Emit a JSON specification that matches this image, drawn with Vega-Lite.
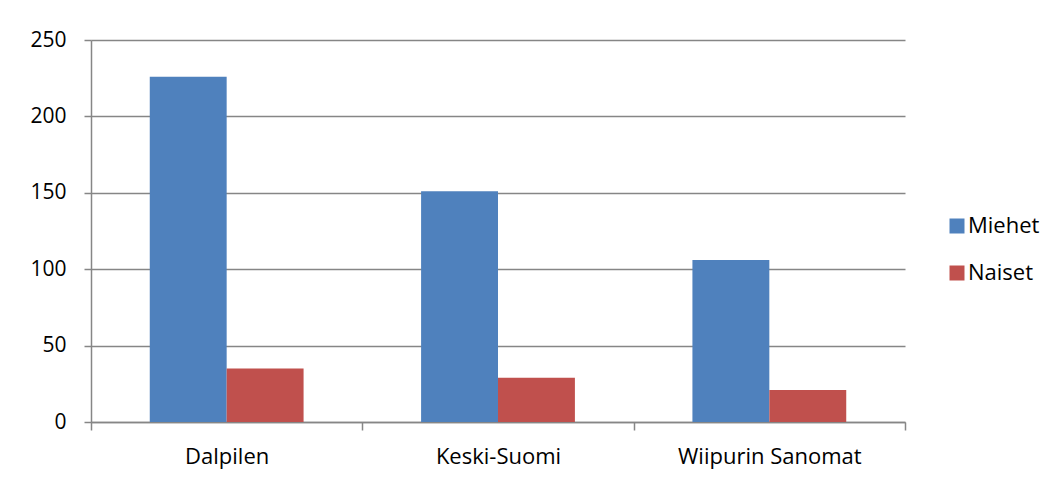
{
  "$schema": "https://vega.github.io/schema/vega-lite/v6.json",
  "width": 814,
  "height": 382,
  "autosize": {"type": "none"},
  "padding": {"left": 91, "top": 40, "right": 155, "bottom": 60},
  "background": "white",
  "config": {
    "font": "Open Sans",
    "view": {"stroke": null},
    "axis": {"labelFont": "Open Sans", "labelColor": "#000000", "domainColor": "#868686", "tickColor": "#868686", "gridColor": "#868686", "domainWidth": 1.5, "tickWidth": 1.5, "gridWidth": 1.5, "title": null},
    "legend": {"labelFont": "Open Sans", "labelColor": "#000000"}
  },
  "data": {
    "values": [
      {"lehti": "Dalpilen", "sukupuoli": "Miehet", "arvo": 226},
      {"lehti": "Dalpilen", "sukupuoli": "Naiset", "arvo": 35},
      {"lehti": "Keski-Suomi", "sukupuoli": "Miehet", "arvo": 151},
      {"lehti": "Keski-Suomi", "sukupuoli": "Naiset", "arvo": 29},
      {"lehti": "Wiipurin Sanomat", "sukupuoli": "Miehet", "arvo": 106},
      {"lehti": "Wiipurin Sanomat", "sukupuoli": "Naiset", "arvo": 21}
    ]
  },
  "mark": {"type": "bar"},
  "encoding": {
    "x": {
      "field": "lehti", "type": "nominal", "sort": null,
      "scale": {"paddingInner": 0, "paddingOuter": 0},
      "axis": {"labelAngle": 0, "tickBand": "extent", "tickSize": 8, "labelPadding": 16, "labelFontSize": 22, "labelLimit": 0, "labelOverlap": false, "grid": false}
    },
    "xOffset": {
      "field": "sukupuoli", "type": "nominal", "sort": ["Miehet", "Naiset"],
      "scale": {"paddingInner": 0, "paddingOuter": 0.764}
    },
    "y": {
      "field": "arvo", "type": "quantitative",
      "scale": {"domain": [0, 250], "nice": false},
      "axis": {"values": [0, 50, 100, 150, 200, 250], "tickSize": 7, "labelPadding": 18, "labelFontSize": 21, "grid": true}
    },
    "color": {
      "field": "sukupuoli", "type": "nominal",
      "scale": {"domain": ["Miehet", "Naiset"], "range": ["#4F81BD", "#C0504D"]},
      "legend": {"title": null, "orient": "none", "legendX": 855, "legendY": 175, "symbolType": "square", "symbolSize": 225, "symbolStrokeWidth": 0, "labelOffset": 0, "labelFontSize": 22, "rowPadding": 25}
    }
  }
}
